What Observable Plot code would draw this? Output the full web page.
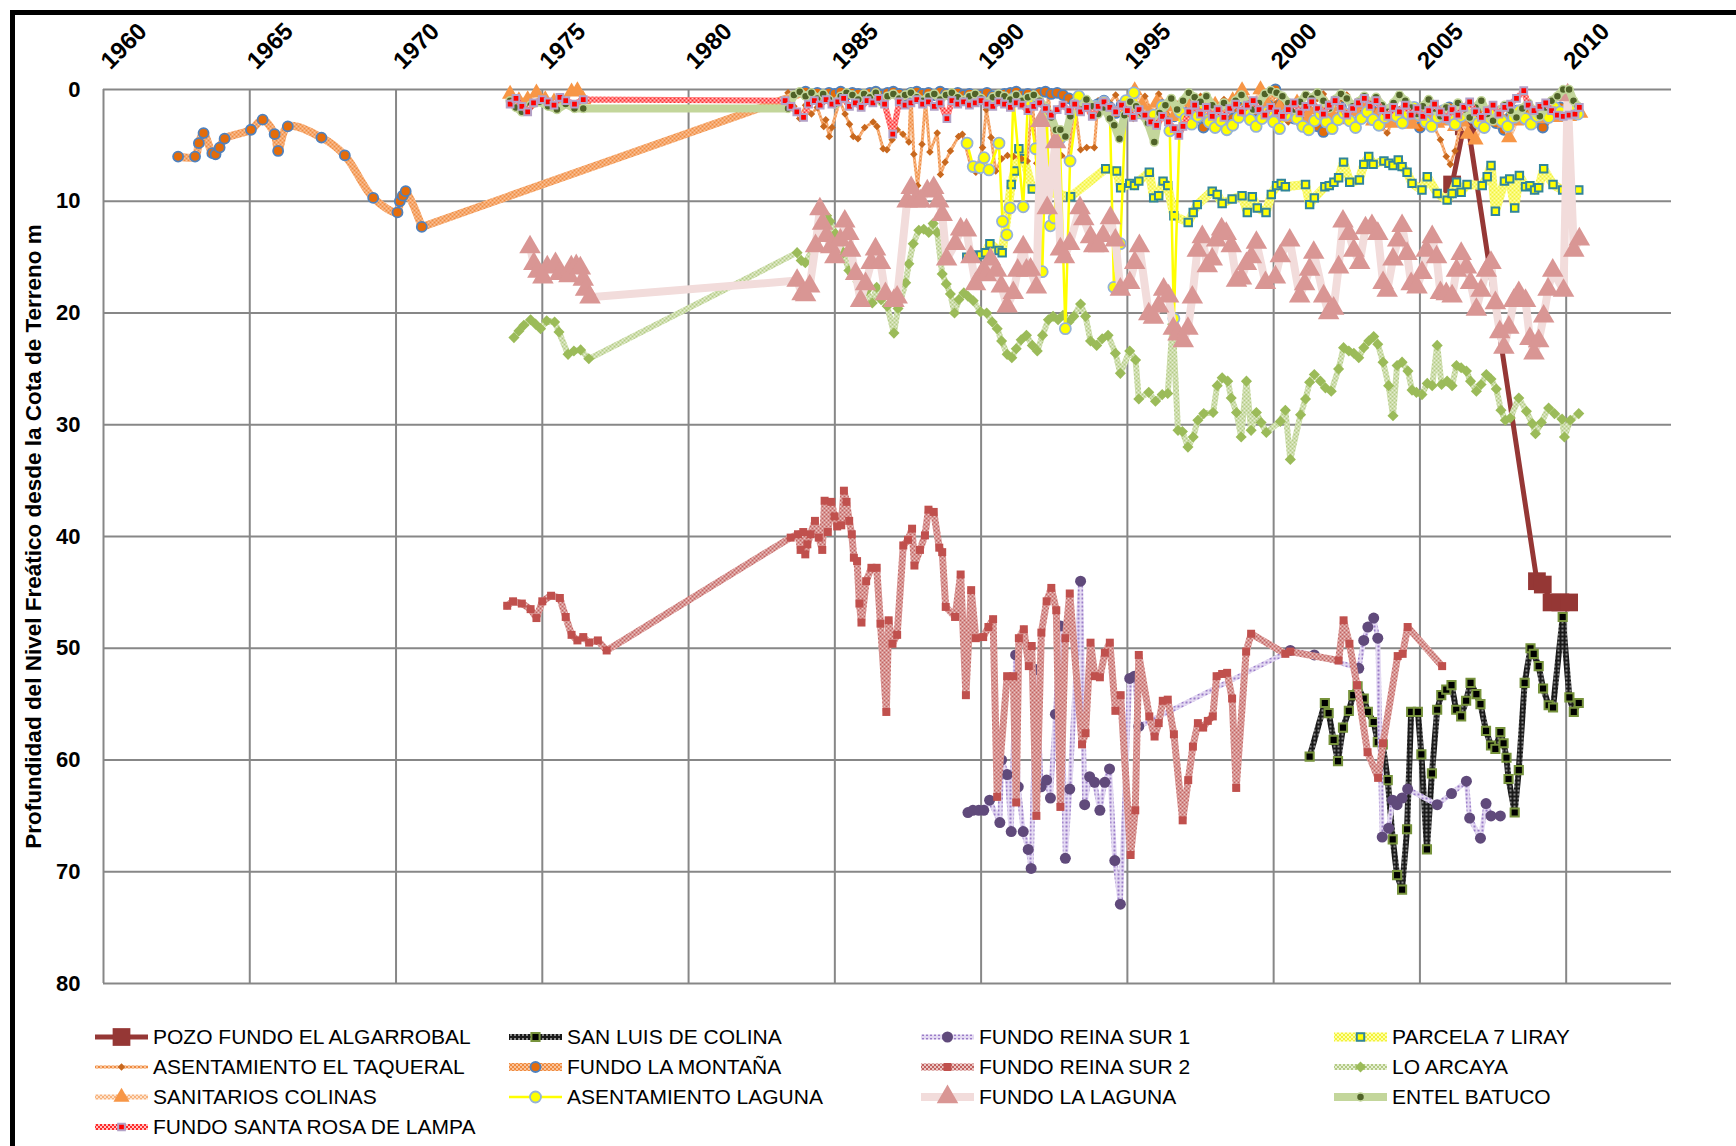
<!DOCTYPE html>
<html>
<head>
<meta charset="utf-8">
<script src="https://cdn.jsdelivr.net/npm/d3@7"></script>
<script src="https://cdn.jsdelivr.net/npm/@observablehq/plot@0.6"></script>
<style>
  html, body { margin: 0; padding: 0; background: #fff; width: 1736px; height: 1146px; overflow: hidden; }
  #frame { position: absolute; left: 10px; top: 10px; width: 1800px; height: 1200px;
           border-left: 5px solid #000; border-top: 5px solid #000; box-sizing: border-box; }
  #chart { position: absolute; left: 0; top: 0; }
  #defs { position: absolute; width: 0; height: 0; }
  .leg { position: absolute; height: 24px; display: flex; align-items: center;
         font-family: "Liberation Sans", Arial, sans-serif; font-size: 21px; color: #000; white-space: nowrap; }
  .leg svg { margin-right: 5px; overflow: visible; }
</style>
</head>
<body>
<svg id="defs" aria-hidden="true"></svg>
<div id="frame"></div>
<div id="chart"></div>
<div id="legend"></div>
<script>
// Depth of the water table below ground level (m) at each well, by decimal year.

const xTicks = [1960, 1965, 1970, 1975, 1980, 1985, 1990, 1995, 2000, 2005, 2010];
const yTicks = [0, 10, 20, 30, 40, 50, 60, 70, 80];

const pozoFundoElAlgarrobal = [
  [2006.1, 8.5], [2006.5, 3.3], [2006.65, 3.3], [2009.0, 44.0], [2009.2, 44.3], [2009.5, 45.9], [2009.8, 45.9], [2010.1, 45.9]
];

const sanLuisDeColina = [
  [2001.23, 59.7], [2001.75, 54.9], [2001.88, 55.8], [2002.05, 58.2], [2002.20, 60.1], [2002.37, 57.1], [2002.57, 55.6],
  [2002.72, 54.2], [2002.87, 53.4], [2003.08, 54.5], [2003.22, 55.7], [2003.42, 56.6], [2003.56, 58.4], [2003.73, 58.6],
  [2003.90, 61.8], [2004.07, 67.1], [2004.22, 70.3], [2004.39, 71.6], [2004.56, 66.2], [2004.70, 55.7], [2004.93, 55.7],
  [2005.05, 59.5], [2005.24, 68.0], [2005.41, 61.2], [2005.59, 55.5], [2005.73, 54.2], [2005.90, 53.7], [2006.08, 53.3],
  [2006.24, 55.5], [2006.41, 56.1], [2006.58, 54.7], [2006.73, 53.1], [2006.93, 54.1], [2007.07, 55.0], [2007.26, 57.4],
  [2007.43, 58.7], [2007.58, 59.0], [2007.75, 57.5], [2007.86, 58.5], [2007.96, 59.8], [2008.03, 61.7], [2008.24, 64.7],
  [2008.38, 60.9], [2008.58, 53.1], [2008.78, 50.0], [2008.89, 50.5], [2009.06, 51.6], [2009.21, 53.6], [2009.40, 55.1],
  [2009.55, 55.3], [2009.88, 47.2], [2010.11, 54.4], [2010.26, 55.7], [2010.43, 54.9]
];

const fundoReinaSur1 = [
  [1989.55, 64.7], [1989.72, 64.5], [1989.92, 64.5], [1990.09, 64.5], [1990.29, 63.6], [1990.64, 65.6], [1990.70, 60.0],
  [1990.89, 61.3], [1991.03, 66.4], [1991.18, 50.6], [1991.27, 62.4], [1991.44, 66.4], [1991.61, 68.0], [1991.71, 69.7],
  [1991.88, 51.9], [1992.05, 62.4], [1992.24, 61.8], [1992.37, 63.4], [1992.54, 55.9], [1992.71, 48.0], [1992.88, 68.8],
  [1993.03, 62.6], [1993.40, 44.0], [1993.54, 64.0], [1993.71, 61.5], [1993.88, 62.0], [1994.06, 64.5], [1994.23, 62.0],
  [1994.39, 60.8], [1994.57, 69.0], [1994.76, 72.9], [1995.08, 52.7], [1995.24, 52.5], [1995.39, 57.0], [2000.57, 50.2],
  [2001.39, 50.6], [2002.91, 51.8], [2003.08, 49.3], [2003.22, 48.1], [2003.42, 47.3], [2003.56, 49.1], [2003.71, 66.9],
  [2003.93, 66.1], [2004.07, 63.6], [2004.22, 64.0], [2004.39, 63.4], [2004.58, 62.6], [2005.59, 64.0], [2006.08, 63.0],
  [2006.59, 61.9], [2006.70, 65.2], [2007.07, 67.0], [2007.26, 63.9], [2007.43, 65.0], [2007.75, 65.0]
];

const parcela7Liray = [
  [1989.51, 15.0], [1989.66, 14.8], [1989.82, 14.9], [1989.98, 14.8], [1990.15, 14.6], [1990.30, 13.8], [1990.61, 14.4],
  [1990.72, 14.6], [1991.03, 8.5], [1991.15, 7.3], [1991.29, 5.3], [1991.46, 6.2], [1991.75, 8.9], [1993.06, 9.6],
  [1994.26, 7.1], [1994.63, 7.3], [1994.77, 8.8], [1995.08, 8.4], [1995.24, 8.6], [1995.39, 8.2], [1995.75, 7.4],
  [1995.90, 9.7], [1996.07, 9.5], [1996.22, 8.2], [1996.38, 8.6], [1996.59, 11.3], [1997.08, 11.9], [1997.25, 11.0],
  [1997.39, 10.3], [1997.90, 9.1], [1998.07, 9.4], [1998.24, 10.2], [1998.58, 9.8], [1998.92, 9.5], [1999.10, 11.0],
  [1999.27, 9.6], [1999.44, 10.6], [1999.74, 11.0], [1999.92, 9.4], [2000.10, 8.6], [2000.26, 8.4], [2000.40, 8.7],
  [2001.09, 8.5], [2001.23, 10.3], [2001.39, 9.7], [2001.75, 8.7], [2001.90, 8.6], [2002.06, 8.3], [2002.22, 7.9],
  [2002.39, 6.5], [2002.60, 8.3], [2002.93, 8.1], [2003.08, 6.7], [2003.25, 6.0], [2003.40, 6.7], [2003.77, 6.4],
  [2003.94, 6.6], [2004.08, 6.8], [2004.26, 6.3], [2004.39, 6.9], [2004.56, 7.4], [2004.73, 8.4], [2005.07, 9.0],
  [2005.25, 7.8], [2005.59, 9.3], [2005.93, 9.9], [2006.10, 9.3], [2006.25, 8.3], [2006.41, 9.2], [2006.61, 8.5],
  [2007.13, 8.6], [2007.30, 7.8], [2007.43, 6.8], [2007.58, 10.9], [2007.89, 8.2], [2008.07, 8.0], [2008.24, 10.6],
  [2008.40, 7.7], [2008.61, 8.7], [2008.76, 8.6], [2008.92, 9.0], [2009.06, 8.8], [2009.23, 7.1], [2009.55, 8.5],
  [2009.88, 9.0], [2010.43, 9.0]
];

const asentamientoElTaqueral = [
  [1983.4, 0.3], [1983.6, 1.5], [1983.8, 2.6], [1984.0, 1.4], [1984.2, 2.2], [1984.4, 1.6], [1984.62, 3.3], [1984.69, 2.7],
  [1984.81, 4.2], [1984.9, 3.4], [1985.17, 1.0], [1985.35, 2.2], [1985.5, 3.1], [1985.63, 4.2], [1985.79, 4.4], [1986.02, 3.4],
  [1986.31, 2.9], [1986.44, 3.3], [1986.65, 5.3], [1986.78, 5.4], [1986.96, 4.5], [1987.13, 3.6], [1987.33, 4.0], [1987.53, 4.7],
  [1987.6, 0.3], [1987.7, 5.8], [1987.83, 8.6], [1987.98, 4.9], [1988.1, 1.0], [1988.25, 5.6], [1988.5, 3.9], [1988.61, 7.6],
  [1988.77, 6.5], [1988.95, 5.5], [1989.23, 4.2], [1989.36, 4.0], [1989.66, 7.0], [1989.82, 7.4], [1990.05, 5.2], [1990.18, 1.8],
  [1990.34, 4.3], [1990.5, 7.3], [1990.7, 6.2], [1990.9, 5.9], [1991.10, 6.0], [1991.38, 6.2], [1991.58, 6.4], [1991.75, 0.8],
  [1991.9, 6.6], [1992.1, 5.8], [1992.3, 0.5], [1992.5, 6.0], [1992.75, 5.9], [1992.97, 6.3], [1993.2, 1.2], [1993.4, 5.4],
  [1993.61, 5.2], [1993.87, 5.2], [1994.0, 1.0], [1994.2, 1.8], [1994.4, 1.2], [1994.6, 0.5], [1994.8, 2.0], [1995.0, 1.4],
  [1995.2, 2.6], [1995.4, 1.7], [1995.6, 0.6], [1995.8, 1.9], [1996.07, 0.4], [1996.3, 1.4], [1996.5, 2.0], [1996.7, 1.3],
  [1996.9, 1.8], [1997.1, 0.9], [1997.3, 1.5], [1997.5, 0.6], [1997.7, 1.2], [1997.9, 2.1], [1998.1, 1.6], [1998.3, 0.9],
  [1998.5, 1.8], [1998.7, 2.5], [1998.9, 1.6], [1999.1, 1.1], [1999.3, 2.0], [1999.5, 1.4], [1999.7, 0.8], [1999.9, 1.8],
  [2000.1, 1.2], [2000.3, 2.1], [2000.5, 2.9], [2000.7, 2.0], [2000.9, 3.2], [2001.1, 2.4], [2001.3, 1.6], [2001.5, 0.8],
  [2001.7, 0.4], [2001.9, 1.3], [2002.1, 1.9], [2002.3, 1.2], [2002.5, 0.5], [2002.7, 1.9], [2002.88, 2.9], [2003.1, 2.1],
  [2003.3, 1.4], [2003.5, 2.2], [2003.7, 3.4], [2003.88, 3.9], [2004.1, 2.6], [2004.3, 1.8], [2004.5, 2.3], [2004.7, 1.6],
  [2004.9, 2.4], [2005.1, 1.9], [2005.3, 2.8], [2005.5, 3.4], [2005.7, 4.5], [2005.9, 6.0], [2006.04, 6.7], [2006.2, 5.5],
  [2006.4, 3.0], [2006.6, 2.2], [2006.8, 1.9], [2007.0, 2.4]
];

const fundoLaMontana = [
  [1962.55, 6.0], [1963.13, 6.0], [1963.26, 4.8], [1963.42, 3.9], [1963.72, 5.7], [1963.83, 5.8], [1963.97, 5.2],
  [1964.14, 4.4], [1965.04, 3.6], [1965.44, 2.7], [1965.85, 4.0], [1965.97, 5.5], [1966.30, 3.3], [1967.45, 4.3],
  [1968.25, 5.9], [1969.22, 9.7], [1970.05, 11.0], [1970.13, 10.0], [1970.23, 9.5], [1970.33, 9.1], [1970.88, 12.3],
  [1984.0, 0.2], [1984.2, 0.4], [1984.4, 0.3], [1984.6, 0.6], [1984.8, 0.3], [1985.0, 0.4], [1985.2, 0.2], [1985.4, 0.5],
  [1985.6, 0.3], [1985.8, 0.4], [1986.0, 0.6], [1986.2, 0.3], [1986.4, 0.2], [1986.6, 0.5], [1986.8, 0.3], [1987.0, 0.2],
  [1987.2, 0.4], [1987.4, 0.6], [1987.6, 0.3], [1987.8, 0.2], [1988.0, 0.4], [1988.2, 0.3], [1988.4, 0.5], [1988.6, 0.2],
  [1988.8, 0.4], [1989.0, 0.6], [1989.2, 0.3], [1989.4, 0.5], [1989.6, 0.4], [1989.8, 0.8], [1990.0, 0.5], [1990.2, 0.3],
  [1990.4, 0.6], [1990.6, 0.9], [1990.8, 0.4], [1991.0, 0.3], [1991.2, 0.2], [1991.4, 0.5], [1991.6, 0.4], [1991.8, 0.7],
  [1992.0, 0.3], [1992.2, 0.2], [1992.4, 0.4], [1992.6, 0.3], [1992.8, 0.5], [1993.0, 0.8], [1993.2, 1.2], [1993.4, 0.9],
  [1993.6, 1.5], [1993.8, 1.8], [1994.0, 1.3], [1994.2, 1.0], [1994.4, 1.6], [1994.6, 2.1], [1994.8, 1.4], [1995.0, 1.1],
  [1995.2, 0.8], [1995.4, 1.5], [1995.6, 2.3], [1995.8, 2.6], [1996.0, 1.9], [1996.2, 1.4], [1996.4, 2.0], [1996.6, 2.4],
  [1996.8, 1.6], [1997.0, 1.2], [1997.2, 1.8], [1997.4, 2.5], [1997.6, 3.4], [1997.8, 2.2], [1998.0, 1.7], [1998.2, 2.4],
  [1998.4, 3.1], [1998.6, 2.6], [1998.8, 1.8], [1999.0, 1.5], [1999.2, 2.2], [1999.4, 1.9], [1999.6, 2.5], [1999.8, 1.4],
  [2000.06, 0.0], [2000.3, 1.2], [2000.5, 2.0], [2000.7, 2.6], [2000.9, 1.9], [2001.1, 2.4], [2001.3, 3.0], [2001.5, 3.3],
  [2001.7, 3.8], [2001.9, 2.7], [2002.1, 2.1], [2002.3, 1.6], [2002.5, 2.3], [2002.7, 2.9], [2002.9, 2.2], [2003.1, 1.8],
  [2003.3, 2.5], [2003.5, 2.0], [2003.7, 3.0], [2003.9, 2.4], [2004.1, 1.8], [2004.3, 2.6], [2004.5, 2.1], [2004.7, 2.8],
  [2005.0, 3.4], [2005.2, 2.6], [2005.4, 2.0], [2005.6, 2.7], [2005.8, 2.2], [2006.0, 1.6], [2006.2, 2.3], [2006.4, 2.8],
  [2006.6, 2.1], [2006.8, 1.7], [2007.0, 2.5], [2007.2, 2.0], [2007.4, 2.6], [2007.6, 3.0], [2007.87, 3.6], [2008.1, 2.4],
  [2008.3, 1.9], [2008.5, 2.6], [2008.7, 2.2], [2008.9, 2.9], [2009.2, 3.4], [2009.4, 2.5], [2009.6, 2.0], [2009.8, 1.6],
  [2010.0, 1.9], [2010.2, 2.3], [2010.4, 2.0]
];

const fundoReinaSur2 = [
  [1973.8, 46.2], [1974.0, 45.8], [1974.3, 46.0], [1974.6, 46.5], [1974.8, 47.3], [1975.0, 45.8], [1975.3, 45.3],
  [1975.6, 45.5], [1975.8, 47.2], [1976.0, 48.8], [1976.2, 49.3], [1976.4, 49.0], [1976.6, 49.5], [1976.9, 49.3],
  [1977.2, 50.2], [1983.49, 40.1], [1983.74, 39.8], [1983.83, 41.2], [1983.92, 39.6], [1983.99, 41.6], [1984.06, 40.7],
  [1984.17, 39.8], [1984.32, 38.6], [1984.45, 40.1], [1984.57, 41.2], [1984.65, 36.8], [1984.76, 39.6], [1984.88, 36.9],
  [1984.99, 38.2], [1985.08, 39.1], [1985.22, 39.0], [1985.31, 35.9], [1985.40, 36.9], [1985.49, 38.6], [1985.58, 39.8],
  [1985.65, 41.9], [1985.76, 42.2], [1985.84, 46.0], [1985.91, 47.7], [1986.07, 44.0], [1986.25, 42.8], [1986.43, 42.8],
  [1986.56, 47.8], [1986.76, 55.7], [1986.84, 47.5], [1986.97, 49.6], [1987.13, 48.8], [1987.34, 40.8], [1987.50, 40.3],
  [1987.64, 39.3], [1987.72, 42.6], [1987.91, 41.2], [1988.08, 39.9], [1988.20, 37.6], [1988.38, 37.8], [1988.57, 41.0],
  [1988.67, 41.4], [1988.79, 46.3], [1989.11, 47.2], [1989.30, 43.4], [1989.48, 54.2], [1989.66, 44.8], [1989.82, 49.1],
  [1990.07, 49.0], [1990.25, 48.1], [1990.41, 47.4], [1990.55, 63.3], [1990.89, 52.5], [1991.10, 52.5], [1991.20, 63.8],
  [1991.29, 49.1], [1991.46, 48.3], [1991.63, 51.6], [1991.73, 49.8], [1991.89, 65.0], [1992.06, 48.6], [1992.24, 45.8],
  [1992.40, 44.6], [1992.57, 46.6], [1992.71, 64.2], [1992.88, 49.1], [1993.03, 45.1], [1993.45, 58.6], [1993.57, 57.6],
  [1993.74, 49.5], [1993.89, 52.5], [1994.06, 52.6], [1994.23, 50.4], [1994.40, 49.5], [1994.59, 55.6], [1994.77, 54.2],
  [1995.11, 68.5], [1995.27, 64.5], [1995.39, 50.6], [1995.75, 56.1], [1995.93, 57.9], [1996.07, 56.7], [1996.21, 54.7],
  [1996.38, 54.6], [1996.59, 57.7], [1996.89, 65.4], [1997.08, 61.8], [1997.24, 58.8], [1997.41, 56.7], [1997.59, 57.1],
  [1997.75, 56.5], [1997.92, 56.1], [1998.05, 52.5], [1998.24, 52.3], [1998.41, 52.2], [1998.58, 54.5], [1998.72, 62.5],
  [1999.06, 50.3], [1999.23, 48.7], [2000.40, 50.5], [2000.57, 50.3], [2002.22, 51.1], [2002.39, 47.5], [2002.59, 49.6],
  [2002.85, 53.3], [2003.21, 59.3], [2003.57, 61.6], [2003.74, 58.5], [2004.24, 50.7], [2004.41, 50.5], [2004.58, 48.1],
  [2005.76, 51.6]
];

const loArcaya = [
  [1974.03, 22.2], [1974.20, 21.6], [1974.37, 21.1], [1974.60, 20.6], [1974.77, 21.0], [1974.94, 21.4], [1975.15, 20.7],
  [1975.42, 20.8], [1975.57, 21.7], [1975.88, 23.7], [1976.08, 23.4], [1976.31, 23.3], [1976.59, 24.1], [1983.71, 14.6],
  [1983.85, 15.3], [1983.99, 15.5], [1984.28, 14.1], [1984.40, 13.5], [1984.72, 11.3], [1984.83, 11.8], [1985.02, 12.9],
  [1985.29, 14.6], [1985.48, 16.2], [1985.59, 16.5], [1985.79, 17.2], [1985.94, 17.7], [1986.08, 18.0], [1986.28, 19.1],
  [1986.43, 17.7], [1986.58, 18.8], [1986.79, 19.4], [1987.02, 21.8], [1987.16, 19.6], [1987.42, 17.3], [1987.53, 15.6],
  [1987.68, 13.8], [1987.87, 12.6], [1988.04, 12.5], [1988.21, 12.8], [1988.36, 12.0], [1988.50, 12.8], [1988.67, 16.5],
  [1988.81, 17.4], [1988.95, 18.3], [1989.09, 20.0], [1989.24, 18.8], [1989.41, 18.2], [1989.55, 18.5], [1989.73, 18.9],
  [1989.98, 19.9], [1990.19, 20.0], [1990.38, 20.8], [1990.55, 21.4], [1990.70, 22.5], [1990.89, 23.7], [1991.05, 24.0],
  [1991.20, 23.2], [1991.37, 22.4], [1991.55, 22.0], [1991.75, 22.9], [1991.92, 23.4], [1992.10, 22.0], [1992.30, 20.6],
  [1992.46, 20.3], [1992.63, 20.6], [1992.80, 20.2], [1993.00, 20.8], [1993.17, 20.3], [1993.40, 19.2], [1993.57, 20.3],
  [1993.74, 22.5], [1993.95, 22.9], [1994.14, 22.3], [1994.34, 22.0], [1994.59, 23.6], [1994.76, 25.4], [1995.08, 23.4],
  [1995.28, 24.2], [1995.39, 27.7], [1995.73, 27.1], [1995.96, 27.9], [1996.19, 27.3], [1996.38, 27.2], [1996.55, 21.0],
  [1996.73, 30.5], [1996.88, 30.6], [1997.07, 32.0], [1997.25, 31.1], [1997.41, 29.6], [1997.61, 29.0], [1997.93, 28.9],
  [1998.07, 26.5], [1998.24, 25.8], [1998.43, 26.1], [1998.55, 27.6], [1998.73, 28.9], [1998.89, 31.1], [1999.07, 26.1],
  [1999.23, 30.5], [1999.41, 28.9], [1999.57, 29.8], [1999.75, 30.7], [2000.23, 29.7], [2000.40, 28.7], [2000.57, 33.1],
  [2000.92, 29.1], [2001.09, 27.7], [2001.23, 26.2], [2001.39, 25.5], [2001.60, 26.1], [2001.77, 26.7], [2001.97, 27.0],
  [2002.22, 25.0], [2002.39, 23.1], [2002.57, 23.4], [2002.74, 23.6], [2002.91, 24.0], [2003.08, 23.1], [2003.25, 22.5],
  [2003.42, 22.1], [2003.56, 22.8], [2003.74, 24.4], [2003.93, 26.5], [2004.08, 29.2], [2004.22, 24.7], [2004.39, 24.4],
  [2004.59, 25.2], [2004.73, 26.9], [2004.88, 27.1], [2005.07, 27.3], [2005.25, 26.3], [2005.42, 26.5], [2005.59, 22.9],
  [2005.74, 26.4], [2005.93, 26.1], [2006.10, 26.5], [2006.25, 24.7], [2006.41, 24.9], [2006.59, 25.2], [2006.73, 26.1],
  [2006.93, 27.0], [2007.09, 26.4], [2007.27, 25.5], [2007.43, 25.9], [2007.61, 26.8], [2007.77, 28.7], [2007.92, 29.6],
  [2008.09, 29.4], [2008.38, 27.6], [2008.64, 28.8], [2008.84, 29.9], [2008.95, 30.8], [2009.15, 29.8], [2009.40, 28.5],
  [2009.60, 29.0], [2009.86, 29.5], [2009.94, 31.1], [2010.14, 29.6], [2010.43, 29.0]
];

// NaN marks the gap between the 1970s readings and the later campaign
const sanitariosColinas = [
  [1973.9, 0.4], [1974.2, 1.0], [1974.5, 0.9], [1974.8, 0.3], [1975.1, 0.9], [1975.4, 1.1], [1975.7, 1.2], [1976.0, 0.2],
  [1976.2, 0.1], [1976.4, 0.9], [1985.0, NaN],
  [1995.0, 1.6], [1995.25, 0.1], [1995.5, 1.4], [1995.75, 2.1], [1996.0, 1.2], [1996.2, 2.0], [1996.4, 1.5], [1996.6, 2.4],
  [1996.8, 1.8], [1997.0, 1.1], [1997.2, 1.7], [1997.4, 2.3], [1997.6, 1.5], [1997.8, 2.0], [1998.0, 1.4], [1998.2, 2.2],
  [1998.4, 1.6], [1998.6, 1.0], [1998.92, 0.1], [1999.1, 1.3], [1999.3, 1.8], [1999.55, 0.0], [1999.8, 1.4], [2000.0, 2.1],
  [2000.2, 1.6], [2000.4, 2.5], [2000.6, 1.9], [2000.8, 1.2], [2001.0, 2.0], [2001.2, 2.6], [2001.4, 1.8], [2001.6, 2.4],
  [2001.8, 1.7], [2002.0, 2.3], [2002.2, 1.5], [2002.4, 2.1], [2002.6, 2.7], [2002.8, 2.0], [2003.0, 1.4], [2003.2, 2.2],
  [2003.4, 2.8], [2003.6, 2.1], [2003.8, 2.6], [2004.0, 3.0], [2004.2, 2.4], [2004.4, 2.0], [2004.6, 2.7], [2004.73, 3.1],
  [2004.9, 2.5], [2005.1, 2.2], [2005.3, 2.6], [2005.59, 3.0], [2005.8, 2.4], [2006.0, 2.8], [2006.2, 3.3], [2006.45, 2.9],
  [2006.64, 4.0], [2006.9, 4.5], [2007.1, 2.9], [2007.3, 2.4], [2007.5, 2.8], [2007.7, 2.2], [2007.9, 3.0], [2008.05, 4.3],
  [2008.3, 2.8], [2008.5, 2.3], [2008.7, 2.7], [2008.9, 2.2], [2009.1, 2.6], [2009.3, 2.0], [2009.52, 2.2], [2009.7, 2.5],
  [2009.9, 2.1], [2010.1, 2.4], [2010.3, 1.8], [2010.48, 2.1]
];

const asentamientoLaguna = [
  [1989.52, 4.8], [1989.73, 6.9], [1989.96, 7.0], [1990.10, 6.1], [1990.27, 7.2], [1990.61, 4.8], [1990.73, 11.8],
  [1990.88, 13.0], [1990.99, 10.6], [1991.10, 0.8], [1991.44, 10.5], [1991.60, 1.0], [1991.86, 5.3], [1992.09, 16.3],
  [1992.24, 2.2], [1992.37, 12.2], [1992.50, 11.5], [1992.69, 4.4], [1992.88, 21.4], [1993.04, 6.4], [1993.34, 0.6],
  [1993.60, 1.2], [1993.90, 1.5], [1994.20, 1.1], [1994.40, 1.8], [1994.54, 17.7], [1994.76, 13.8], [1994.95, 1.0],
  [1995.22, 0.3], [1995.39, 2.1], [1995.70, 2.5], [1995.90, 2.3], [1996.20, 1.5], [1996.45, 3.7], [1996.59, 20.5],
  [1996.8, 2.0], [1997.0, 2.6], [1997.2, 3.1], [1997.4, 2.4], [1997.6, 1.8], [1997.8, 2.9], [1998.0, 3.4], [1998.2, 2.8],
  [1998.4, 3.6], [1998.6, 3.2], [1998.8, 2.5], [1999.0, 1.9], [1999.2, 2.7], [1999.4, 3.3], [1999.6, 2.6], [1999.8, 2.0],
  [2000.0, 2.9], [2000.2, 3.5], [2000.4, 2.3], [2000.6, 1.5], [2000.8, 2.6], [2001.0, 3.3], [2001.2, 3.6], [2001.4, 2.8],
  [2001.6, 2.2], [2001.8, 2.9], [2002.0, 3.5], [2002.2, 2.7], [2002.4, 2.1], [2002.6, 2.8], [2002.8, 3.4], [2003.0, 2.6],
  [2003.2, 2.0], [2003.4, 2.7], [2003.6, 3.2], [2003.8, 2.5], [2004.0, 1.8], [2004.2, 2.4], [2004.4, 3.0], [2004.6, 2.2],
  [2004.8, 1.6], [2005.0, 2.3], [2005.2, 2.9], [2005.4, 3.3], [2005.6, 2.5], [2005.8, 1.9], [2006.0, 2.6], [2006.2, 3.1],
  [2006.4, 2.4], [2006.6, 1.8], [2006.8, 2.5], [2007.0, 3.0], [2007.2, 3.4], [2007.4, 2.6], [2007.6, 2.0], [2007.8, 2.8],
  [2008.0, 3.3], [2008.2, 2.5], [2008.4, 1.9], [2008.6, 2.6], [2008.8, 3.1], [2009.0, 2.4], [2009.2, 1.8], [2009.4, 2.5],
  [2009.6, 1.6], [2009.8, 2.0], [2010.0, 2.4], [2010.2, 1.9], [2010.4, 2.2]
];

const fundoLaLaguna = [
  [1974.58, 14.1], [1974.71, 15.6], [1974.85, 16.3], [1975.02, 16.8], [1975.17, 15.9], [1975.45, 15.6], [1975.59, 16.5],
  [1975.91, 16.7], [1975.99, 15.9], [1976.16, 15.8], [1976.30, 16.0], [1976.40, 17.0], [1976.48, 17.9], [1976.63, 18.6],
  [1983.71, 17.1], [1983.88, 18.3], [1984.00, 18.4], [1984.14, 17.6], [1984.34, 14.0], [1984.49, 10.7], [1984.58, 12.0],
  [1984.72, 13.1], [1984.86, 14.1], [1985.00, 15.0], [1985.19, 13.5], [1985.34, 11.8], [1985.48, 12.9], [1985.54, 14.4],
  [1985.71, 16.5], [1985.88, 18.9], [1986.05, 17.4], [1986.24, 15.5], [1986.39, 14.3], [1986.56, 15.5], [1986.73, 18.3],
  [1987.02, 18.9], [1987.13, 18.6], [1987.47, 10.0], [1987.61, 8.8], [1987.75, 10.0], [1987.93, 10.0], [1988.16, 9.1],
  [1988.38, 8.8], [1988.55, 10.0], [1988.67, 11.2], [1988.82, 15.2], [1989.12, 13.8], [1989.30, 12.5], [1989.50, 12.6],
  [1989.65, 15.0], [1989.81, 17.4], [1990.04, 16.4], [1990.18, 16.6], [1990.32, 15.2], [1990.53, 16.2], [1990.69, 17.6],
  [1990.89, 19.4], [1991.10, 18.2], [1991.25, 16.2], [1991.44, 14.1], [1991.55, 16.2], [1991.69, 16.1], [1991.89, 17.7],
  [1992.05, 2.8], [1992.26, 10.6], [1992.55, 4.7], [1992.71, 14.3], [1992.85, 15.0], [1993.03, 13.8], [1993.38, 10.6],
  [1993.51, 11.6], [1993.74, 13.2], [1993.85, 14.0], [1994.02, 14.0], [1994.17, 13.1], [1994.42, 11.5], [1994.59, 13.5],
  [1994.76, 17.9], [1995.08, 17.3], [1995.25, 15.5], [1995.41, 14.0], [1995.73, 20.1], [1995.89, 20.4], [1996.07, 19.4],
  [1996.24, 17.9], [1996.41, 18.5], [1996.57, 21.4], [1996.73, 21.9], [1996.91, 22.5], [1997.07, 21.4], [1997.22, 18.6],
  [1997.39, 14.4], [1997.56, 13.2], [1997.73, 15.8], [1997.90, 15.2], [1998.05, 13.5], [1998.22, 12.5], [1998.38, 12.9],
  [1998.55, 14.0], [1998.73, 17.1], [1998.90, 16.9], [1999.07, 15.6], [1999.24, 15.0], [1999.41, 13.7], [1999.72, 17.3],
  [2000.06, 16.8], [2000.23, 14.9], [2000.55, 13.5], [2000.89, 18.5], [2001.06, 17.4], [2001.23, 16.1], [2001.37, 14.6],
  [2001.71, 18.5], [2001.88, 20.0], [2002.05, 19.6], [2002.22, 15.9], [2002.37, 11.8], [2002.57, 12.9], [2002.74, 14.4],
  [2002.94, 15.5], [2003.14, 12.4], [2003.36, 12.2], [2003.56, 12.9], [2003.74, 17.3], [2003.88, 18.0], [2004.08, 15.2],
  [2004.24, 13.5], [2004.39, 12.2], [2004.56, 14.7], [2004.70, 17.4], [2004.90, 17.7], [2005.07, 16.4], [2005.22, 14.4],
  [2005.42, 13.2], [2005.57, 15.0], [2005.70, 18.2], [2005.90, 18.3], [2006.10, 18.5], [2006.25, 16.2], [2006.41, 14.7],
  [2006.59, 15.9], [2006.73, 17.3], [2006.93, 19.7], [2007.09, 18.0], [2007.27, 16.2], [2007.43, 15.5], [2007.58, 19.1],
  [2007.73, 21.7], [2007.87, 23.1], [2008.04, 21.3], [2008.21, 18.9], [2008.38, 18.2], [2008.61, 18.9], [2008.76, 22.3],
  [2008.90, 23.6], [2009.06, 22.5], [2009.23, 20.3], [2009.38, 17.9], [2009.54, 16.2], [2009.91, 18.0], [2010.05, 0.5],
  [2010.26, 14.4], [2010.45, 13.4]
];

const entelBatuco = [
  [1973.9, 1.0], [1974.1, 1.6], [1974.3, 2.0], [1974.6, 1.4], [1974.9, 1.1], [1975.2, 1.5], [1975.5, 1.8], [1975.8, 1.3],
  [1976.1, 1.7], [1976.4, 1.7], [1983.4, 1.7], [1983.6, 0.5], [1983.8, 0.2], [1984.0, 0.6], [1984.2, 0.3], [1984.4, 0.8],
  [1984.6, 0.4], [1984.8, 0.9], [1985.0, 1.3], [1985.2, 0.6], [1985.4, 0.3], [1985.6, 0.5], [1985.8, 0.9], [1986.0, 0.4],
  [1986.2, 0.7], [1986.4, 0.3], [1986.6, 1.1], [1986.8, 0.6], [1987.0, 0.4], [1987.2, 0.8], [1987.4, 0.5], [1987.6, 0.3],
  [1987.8, 0.7], [1988.0, 1.0], [1988.2, 0.6], [1988.4, 0.4], [1988.6, 0.9], [1988.8, 0.5], [1989.0, 0.3], [1989.2, 0.7],
  [1989.4, 1.0], [1989.6, 0.6], [1989.8, 0.4], [1990.0, 0.8], [1990.2, 1.2], [1990.4, 0.7], [1990.6, 0.4], [1990.8, 0.6],
  [1991.0, 0.9], [1991.2, 0.5], [1991.4, 1.0], [1991.6, 0.7], [1991.8, 0.5], [1992.0, 1.0], [1992.2, 1.6], [1992.4, 2.5],
  [1992.56, 3.6], [1992.71, 3.6], [1992.88, 4.2], [1993.05, 2.4], [1993.2, 1.2], [1993.4, 1.8], [1993.6, 0.9], [1993.8, 1.5],
  [1994.0, 2.2], [1994.2, 1.6], [1994.4, 2.6], [1994.55, 3.2], [1994.73, 4.4], [1994.9, 2.3], [1995.1, 1.1], [1995.3, 1.5],
  [1995.5, 2.2], [1995.7, 3.0], [1995.92, 4.7], [1996.1, 2.1], [1996.3, 1.4], [1996.5, 0.8], [1996.7, 1.8], [1996.9, 1.0],
  [1997.1, 0.3], [1997.3, 0.7], [1997.5, 1.1], [1997.7, 0.6], [1997.9, 1.4], [1998.1, 1.9], [1998.3, 1.2], [1998.5, 1.7],
  [1998.7, 1.0], [1998.9, 0.5], [1999.1, 1.3], [1999.3, 1.8], [1999.5, 1.2], [1999.7, 0.4], [1999.9, 0.1], [2000.1, 0.3],
  [2000.3, 0.6], [2000.5, 1.2], [2000.7, 1.8], [2000.9, 1.1], [2001.1, 0.5], [2001.3, 0.8], [2001.5, 0.3], [2001.7, 1.0],
  [2001.9, 1.7], [2002.1, 0.9], [2002.3, 0.4], [2002.5, 0.8], [2002.7, 1.5], [2002.9, 1.1], [2003.1, 0.6], [2003.3, 1.3],
  [2003.5, 0.7], [2003.7, 1.4], [2003.9, 2.0], [2004.1, 1.2], [2004.3, 0.5], [2004.5, 1.0], [2004.7, 1.6], [2004.9, 2.2],
  [2005.1, 1.5], [2005.3, 0.9], [2005.5, 1.7], [2005.7, 2.4], [2005.9, 1.6], [2006.1, 2.0], [2006.3, 1.2], [2006.5, 1.8],
  [2006.7, 2.5], [2006.9, 1.6], [2007.1, 1.0], [2007.3, 2.2], [2007.5, 2.8], [2007.7, 2.0], [2007.9, 1.4], [2008.1, 1.9],
  [2008.3, 2.5], [2008.5, 1.7], [2008.7, 1.2], [2008.9, 2.0], [2009.1, 2.4], [2009.3, 1.6], [2009.5, 1.0], [2009.7, 0.6],
  [2009.9, 0.0], [2010.1, 0.0], [2010.25, 1.0], [2010.4, 1.5]
];

const fundoSantaRosaDeLampa = [
  [1973.9, 1.3], [1974.1, 0.8], [1974.3, 1.5], [1974.5, 2.0], [1974.7, 1.2], [1975.0, 0.9], [1975.2, 1.1], [1975.4, 1.4],
  [1975.6, 0.7], [1975.8, 1.0], [1976.1, 1.3], [1976.4, 0.9], [1983.3, 1.0], [1983.5, 1.5], [1983.7, 2.0], [1983.93, 2.5],
  [1984.1, 1.3], [1984.3, 1.0], [1984.5, 1.4], [1984.7, 0.9], [1984.9, 1.3], [1985.1, 1.1], [1985.3, 0.8], [1985.5, 1.5],
  [1985.7, 1.2], [1985.9, 1.6], [1986.1, 1.0], [1986.3, 1.2], [1986.5, 0.8], [1986.7, 1.3], [1986.98, 4.0], [1987.2, 1.1],
  [1987.4, 1.4], [1987.6, 1.2], [1987.8, 0.9], [1988.0, 1.3], [1988.2, 1.1], [1988.4, 1.5], [1988.6, 1.2], [1988.83, 2.6],
  [1989.0, 1.0], [1989.2, 1.3], [1989.4, 1.1], [1989.6, 1.4], [1989.8, 1.2], [1990.0, 1.0], [1990.2, 1.3], [1990.4, 1.5],
  [1990.6, 1.1], [1990.8, 1.3], [1991.0, 1.6], [1991.2, 1.2], [1991.4, 1.4], [1991.6, 1.9], [1991.8, 1.5], [1992.0, 1.2],
  [1992.2, 1.7], [1992.4, 2.3], [1992.6, 1.8], [1992.8, 1.4], [1993.0, 1.9], [1993.2, 1.3], [1993.4, 2.0], [1993.6, 1.6],
  [1993.8, 2.4], [1994.0, 1.5], [1994.2, 1.1], [1994.4, 1.6], [1994.6, 2.0], [1994.8, 1.4], [1995.0, 1.9], [1995.2, 2.5],
  [1995.4, 1.8], [1995.6, 2.3], [1995.8, 2.9], [1996.0, 3.2], [1996.2, 2.4], [1996.4, 2.9], [1996.6, 3.5], [1996.76, 4.1],
  [1996.9, 3.3], [1997.1, 2.0], [1997.3, 1.4], [1997.5, 2.2], [1997.7, 1.6], [1997.9, 2.4], [1998.1, 1.8], [1998.3, 2.5],
  [1998.5, 1.7], [1998.7, 1.3], [1998.9, 2.0], [1999.1, 1.4], [1999.3, 1.0], [1999.5, 1.8], [1999.7, 2.3], [1999.9, 1.6],
  [2000.1, 2.0], [2000.3, 2.4], [2000.5, 1.8], [2000.7, 1.2], [2000.9, 2.1], [2001.1, 1.5], [2001.3, 1.1], [2001.5, 1.7],
  [2001.7, 2.2], [2001.9, 1.4], [2002.1, 1.0], [2002.3, 1.6], [2002.5, 2.3], [2002.7, 1.7], [2002.9, 1.2], [2003.1, 0.8],
  [2003.3, 1.5], [2003.5, 1.0], [2003.7, 1.8], [2003.9, 2.4], [2004.1, 1.6], [2004.3, 2.0], [2004.5, 1.4], [2004.7, 2.3],
  [2004.9, 1.7], [2005.1, 2.4], [2005.3, 1.9], [2005.5, 1.3], [2005.7, 2.0], [2005.9, 2.6], [2006.1, 1.8], [2006.3, 2.3],
  [2006.5, 1.6], [2006.7, 1.1], [2006.9, 2.0], [2007.1, 2.5], [2007.3, 1.9], [2007.5, 1.4], [2007.7, 2.2], [2007.9, 1.6],
  [2008.1, 1.3], [2008.3, 0.8], [2008.55, 0.1], [2008.7, 1.4], [2008.9, 1.9], [2009.1, 1.5], [2009.3, 1.2], [2009.5, 1.9],
  [2009.7, 2.3], [2009.9, 2.4], [2010.1, 2.3], [2010.3, 2.2], [2010.45, 1.6]
];

// Hatched stroke textures: [id, background, hatch colour, hatch kind]
const textures = [
  ["texSanLuis", "#1a1a1a", "#8a8a8a", "dots"],
  ["texReina1", "#e4daf2", "#9a7cc8", "dots"],
  ["texParcela", "#ffffa8", "#f2f23a", "cross"],
  ["texTaqueral", "#fbc59a", "#ee8a40", "cross"],
  ["texMontana", "#fac49c", "#ef8b3f", "cross"],
  ["texReina2", "#ebc6c4", "#c26260", "cross"],
  ["texArcaya", "#e6efd3", "#b3ca84", "cross"],
  ["texSanitarios", "#fde2cc", "#f7b27c", "cross"],
  ["texSantaRosa", "#ffc2c2", "#ff2a2a", "cross"]
];
const defs = d3.select("#defs").append("defs");
for (const [id, bg, fg, kind] of textures) {
  const p = defs.append("pattern").attr("id", id).attr("patternUnits", "userSpaceOnUse")
    .attr("width", 4).attr("height", 4);
  p.append("rect").attr("width", 4).attr("height", 4).attr("fill", bg);
  if (kind === "cross") {
    p.append("path").attr("d", "M0,0L4,4M4,0L0,4").attr("stroke", fg).attr("stroke-width", 1);
  } else {
    p.append("rect").attr("x", 1).attr("y", 1).attr("width", 2).attr("height", 2).attr("fill", fg);
  }
}

// Series in drawing order, with their line and marker styling
const series = [
  { name: "POZO FUNDO EL ALGARROBAL", data: pozoFundoElAlgarrobal, line: "#953735", lw: 5, sym: "square", r: 10, fill: "#953735" },
  { name: "SAN LUIS DE COLINA", data: sanLuisDeColina, line: "url(#texSanLuis)", lw: 6, sym: "square", r: 4.6, fill: "#000", stroke: "#77933c", sw: 2 },
  { name: "FUNDO REINA SUR 1", data: fundoReinaSur1, line: "url(#texReina1)", lw: 5, sym: "circle", r: 5.5, fill: "#604a7b" },
  { name: "PARCELA 7 LIRAY", data: parcela7Liray, line: "url(#texParcela)", lw: 9, sym: "square", r: 4.2, fill: "#ffff00", stroke: "#31859c", sw: 2 },
  { name: "ASENTAMIENTO EL TAQUERAL", data: asentamientoElTaqueral, line: "url(#texTaqueral)", lw: 3, sym: "diamond2", r: 3.4, fill: "#c8681e" },
  { name: "FUNDO LA MONTAÑA", data: fundoLaMontana, line: "url(#texMontana)", lw: 8, sym: "circle", r: 5, fill: "#e46c0a", stroke: "#4f81bd", sw: 1.8, smoothUntil: 1970.9 },
  { name: "FUNDO REINA SUR 2", data: fundoReinaSur2, line: "url(#texReina2)", lw: 7, sym: "square", r: 4.5, fill: "#c0504d" },
  { name: "LO ARCAYA", data: loArcaya, line: "url(#texArcaya)", lw: 6, sym: "diamond2", r: 5, fill: "#9bbb59" },
  { name: "SANITARIOS COLINAS", data: sanitariosColinas, line: "url(#texSanitarios)", lw: 5, sym: "triangle", r: 6, fill: "#f79646" },
  { name: "ASENTAMIENTO LAGUNA", data: asentamientoLaguna, line: "#ffff00", lw: 2.5, sym: "circle", r: 5.5, fill: "#ffff00", stroke: "#95b3d7", sw: 1.8 },
  { name: "FUNDO LA LAGUNA", data: fundoLaLaguna, line: "#f2dcdb", lw: 8, sym: "triangle", r: 8, fill: "#d99694" },
  { name: "ENTEL BATUCO", data: entelBatuco, line: "#c3d69b", lw: 8, sym: "circle", r: 4, fill: "#4f6228", stroke: "#c3d69b", sw: 1.5 },
  { name: "FUNDO SANTA ROSA DE LAMPA", data: fundoSantaRosaDeLampa, line: "url(#texSantaRosa)", lw: 6, sym: "square", r: 3.8, fill: "#ff0000", stroke: "#b3a2c7", sw: 2 }
];

const font = "'Liberation Sans', Arial, sans-serif";
const gridColor = "#878787";

const marks = [
  Plot.ruleX(xTicks, { stroke: gridColor, strokeWidth: 2 }),
  Plot.ruleY(yTicks, { stroke: gridColor, strokeWidth: 2 })
];

for (const s of series) {
  const lineOpts = { x: d => d[0], y: d => d[1], stroke: s.line, strokeWidth: s.lw, strokeLinejoin: "round", clip: true };
  if (s.smoothUntil) {
    // smoothed early record, straight segments afterwards
    marks.push(Plot.line(s.data, { ...lineOpts, filter: d => d[0] <= s.smoothUntil, curve: "catmull-rom" }));
    marks.push(Plot.line(s.data, { ...lineOpts, filter: d => d[0] >= s.smoothUntil - 0.05 }));
  } else {
    marks.push(Plot.line(s.data, lineOpts));
  }
  marks.push(Plot.dot(s.data, {
    x: d => d[0], y: d => d[1], symbol: s.sym, r: s.r, fill: s.fill,
    stroke: s.stroke || "none", strokeWidth: s.sw || 0
  }));
}

// Tick labels: years rotated above the frame, depths to the left
marks.push(Plot.text(xTicks, {
  x: d => d, frameAnchor: "top", dy: -19, dx: 7, rotate: -45, textAnchor: "start", lineAnchor: "bottom",
  text: d => String(d), fontSize: 24, fontWeight: "bold", fill: "#000"
}));
marks.push(Plot.text(yTicks, {
  y: d => d, frameAnchor: "left", dx: -23, textAnchor: "end",
  text: d => String(d), fontSize: 22, fontWeight: "bold", fill: "#000"
}));
marks.push(Plot.text(["Profundidad del Nivel Freático desde la Cota de Terreno m"], {
  frameAnchor: "left", dx: -70, rotate: -90, textAnchor: "middle",
  text: d => d, fontSize: 22.5, fontWeight: "bold", fill: "#000"
}));

const chart = Plot.plot({
  width: 1736,
  height: 1000,
  marginLeft: 103,
  marginRight: 65,
  marginTop: 89,
  marginBottom: 17,
  style: { fontFamily: font, background: "transparent", overflow: "visible" },
  x: { domain: [1960, 2013.6], axis: null },
  y: { domain: [0, 80], reverse: true, axis: null },
  marks
});
document.getElementById("chart").appendChild(chart);

// Legend: four columns, filled row by row
const legend = document.getElementById("legend");
const colX = [95, 509, 921, 1334];
const rowY = [1037, 1067, 1097, 1127];
const symbolTypes = {
  square: d3.symbolSquare, circle: d3.symbolCircle, triangle: d3.symbolTriangle, diamond2: d3.symbolDiamond2
};
series.forEach((s, i) => {
  const col = i % 4, row = Math.floor(i / 4);
  const item = document.createElement("div");
  item.className = "leg";
  item.style.left = colX[col] + "px";
  item.style.top = (rowY[row] - 12) + "px";
  const sw = d3.create("svg").attr("width", 53).attr("height", 24);
  sw.append("line").attr("x1", 0).attr("x2", 53).attr("y1", 12).attr("y2", 12)
    .attr("stroke", s.line).attr("stroke-width", s.lw);
  sw.append("path").attr("transform", "translate(26.5,12)")
    .attr("d", d3.symbol(symbolTypes[s.sym], Math.PI * s.r * s.r)())
    .attr("fill", s.fill).attr("stroke", s.stroke || "none").attr("stroke-width", s.sw || 0);
  item.appendChild(sw.node());
  const label = document.createElement("span");
  label.textContent = s.name;
  item.appendChild(label);
  legend.appendChild(item);
});
</script>
</body>
</html>
